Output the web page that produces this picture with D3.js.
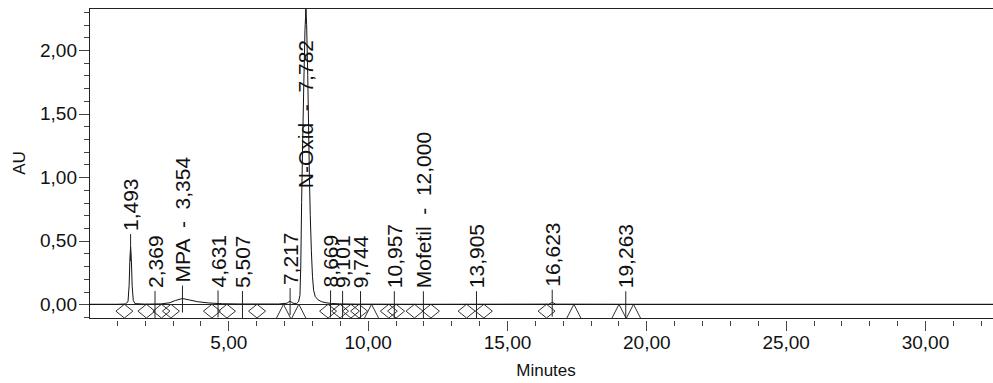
<!DOCTYPE html>
<html>
<head>
<meta charset="utf-8">
<script src="https://cdn.jsdelivr.net/npm/d3@7"></script>
<style>
  body { margin: 0; background: #fff; }
  text { font-family: Arial, "Liberation Sans", sans-serif; fill: #111; }
  .peak-label { white-space: pre; }
</style>
</head>
<body>
<div id="container"></div>
<script>
const WIDTH = 993;
const HEIGHT = 383;
const MARGIN = { TOP: 8, LEFT: 89 };

// plot runs a little past the right edge of the window
const width = 914;
const height = 310;

// detector trace, minutes / AU
const sigTime = [0, 1.0, 1.30, 1.40, 1.44, 1.47, 1.493, 1.52, 1.55, 1.59, 1.65, 2.0, 2.6, 2.9, 3.1, 3.354, 3.6, 3.9, 4.3, 4.8, 5.5,
                 6.8, 7.1, 7.217, 7.32, 7.45, 7.52, 7.57, 7.60, 7.63, 7.67, 7.71, 7.75, 7.782, 7.81, 7.85, 7.88, 7.91, 7.94, 7.98,
                 8.02, 8.06, 8.12, 8.22, 8.35, 8.5, 8.7, 9.0, 9.6, 12, 16.5, 16.6, 16.65, 16.75, 20, 32.8];
const sigAU = [0, 0, 0.002, 0.02, 0.15, 0.37, 0.45, 0.35, 0.14, 0.03, 0.005, 0.001, 0.003, 0.012, 0.03, 0.045, 0.034, 0.02, 0.01, 0.004, 0.002,
               0.002, 0.008, 0.025, 0.008, 0.006, 0.02, 0.07, 0.3, 0.8, 1.3, 1.75, 2.15, 2.32, 2.2, 1.8, 1.4, 1.0, 0.7, 0.42,
               0.22, 0.11, 0.06, 0.035, 0.02, 0.012, 0.006, 0.003, 0.001, 0, 0.001, 0.012, 0.012, 0.001, 0, 0];

// labelled peaks
const peakTimes = [1.493, 2.369, 3.354, 4.631, 5.507, 7.217, 7.782, 8.669, 9.101, 9.744, 10.957, 12.000, 13.905, 16.623, 19.263];
const peakLabels = ['1,493', '2,369', 'MPA  -  3,354', '4,631', '5,507', '7,217', 'N-Oxid  -  7,782', '8,669', '9,101',
                    '9,744', '10,957', 'Mofetil  -  12,000', '13,905', '16,623', '19,263'];

// integration start/end marks on the baseline
const diamondTimes = [1.27, 2.06, 2.60, 2.94, 4.41, 4.95, 6.03, 8.58, 9.01, 9.40, 9.69, 10.76, 11.02, 11.68, 12.27, 13.55, 14.17, 16.42];
const triangleTimes = [6.98, 7.53, 10.14, 17.40, 19.02, 19.54];

const xMajor = [5, 10, 15, 20, 25, 30];
const xMinor = d3.range(1, 33);
const yMajor = [0, 0.5, 1, 1.5, 2];
const yMinor = d3.range(-1, 24).map(d => d / 10);

const commaFmt = d => d3.format('.2f')(d).replace('.', ',');

const svg = d3.select('#container')
  .append('svg')
    .attr('width', WIDTH)
    .attr('height', HEIGHT);

const chart = svg.append('g')
    .attr('transform', `translate(${MARGIN.LEFT}, ${MARGIN.TOP})`);

const x = d3.scaleLinear().domain([0, 32.8]).range([0, width]);
const y = d3.scaleLinear().domain([-0.108, 2.33]).range([height, 0]);

svg.append('clipPath').attr('id', 'plot-clip')
  .append('rect').attr('width', width).attr('height', height);

// frame: left axis, top line, bottom line, zero baseline
const frame = chart.append('g')
    .attr('stroke', '#222')
    .attr('shape-rendering', 'crispEdges');
frame.append('line').attr('x1', 0).attr('x2', 0).attr('y1', 0).attr('y2', height);
frame.append('line').attr('x1', 0).attr('x2', width).attr('y1', 0).attr('y2', 0);
frame.append('line').attr('x1', 0).attr('x2', width).attr('y1', height).attr('y2', height);
frame.append('line').attr('x1', 0).attr('x2', width).attr('y1', y(0)).attr('y2', y(0));

// x axis, ticks hang a few px under the frame
const xMinorAxis = chart.append('g')
    .attr('transform', `translate(0, ${height + 3})`)
    .call(d3.axisBottom(x).tickValues(xMinor).tickSize(5).tickFormat(''));
const xMajorAxis = chart.append('g')
    .attr('transform', `translate(0, ${height + 3})`)
    .call(d3.axisBottom(x).tickValues(xMajor).tickSize(10).tickPadding(5).tickFormat(commaFmt));

const yMinorAxis = chart.append('g')
    .call(d3.axisLeft(y).tickValues(yMinor).tickSize(5).tickFormat(''));
const yMajorAxis = chart.append('g')
    .call(d3.axisLeft(y).tickValues(yMajor).tickSize(10).tickPadding(2).tickFormat(commaFmt));

[xMinorAxis, xMajorAxis, yMinorAxis, yMajorAxis].forEach(ax => {
    ax.select('.domain').remove();
    ax.selectAll('.tick line').attr('stroke', '#444').attr('shape-rendering', 'crispEdges');
    ax.selectAll('text')
      .attr('fill', '#111')
      .style('font-size', '19px')
      .style('font-family', 'Arial, "Liberation Sans", sans-serif');
});

chart.append('text')
    .attr('transform', `translate(${-70}, ${height / 2}) rotate(-90)`)
    .attr('text-anchor', 'middle')
    .attr('dy', '0.35em')
    .style('font-size', '17px')
    .text('AU');

chart.append('text')
    .attr('x', width / 2)
    .attr('y', height + 58)
    .attr('text-anchor', 'middle')
    .style('font-size', '17px')
    .text('Minutes');

const plot = chart.append('g').attr('clip-path', 'url(#plot-clip)');

// baseline marks
const midY = (y(0) + height) / 2;
plot.selectAll('.diamond')
    .data(diamondTimes)
    .enter()
    .append('path')
    .attr('class', 'diamond')
    .attr('d', t => {
        const cx = x(t);
        return `M${cx - 8.5},${midY} L${cx},${y(0)} L${cx + 8.5},${midY} L${cx},${height} Z`;
    })
    .attr('fill', 'none')
    .attr('stroke', '#333');

plot.selectAll('.triangle')
    .data(triangleTimes)
    .enter()
    .append('path')
    .attr('class', 'triangle')
    .attr('d', t => {
        const cx = x(t);
        return `M${cx - 7},${height} L${cx},${y(0)} L${cx + 7},${height}`;
    })
    .attr('fill', 'none')
    .attr('stroke', '#333');

// trace
const trace = sigTime.map((t, i) => [t, sigAU[i]]);
plot.append('path')
    .datum(trace)
    .attr('d', d3.line().x(d => x(d[0])).y(d => y(d[1])))
    .attr('fill', 'none')
    .attr('stroke', '#111')
    .attr('stroke-width', 1);

// peak labels with their short drop lines
const bisect = d3.bisector(d => d).left;
const signalAt = t => {
    const i = Math.max(1, Math.min(sigTime.length - 1, bisect(sigTime, t)));
    const t0 = sigTime[i - 1], t1 = sigTime[i];
    return sigAU[i - 1] + (sigAU[i] - sigAU[i - 1]) * (t - t0) / (t1 - t0);
};

const peaks = peakTimes.map((t, i) => ({ t, label: peakLabels[i], apex: y(signalAt(t)) }));

const peakGroups = chart.selectAll('.peak')
    .data(peaks)
    .enter()
    .append('g')
    .attr('class', 'peak');

peakGroups.append('line')
    .attr('x1', d => x(d.t))
    .attr('x2', d => x(d.t))
    .attr('y1', d => Math.max(0, d.apex - 13))
    .attr('y2', d => Math.min(height, d.apex + 14))
    .attr('stroke', '#222');

peakGroups.append('text')
    .attr('class', 'peak-label')
    .style('font-size', '21px')
    .attr('dy', '0.36em')
    .text(d => d.label)
    .each(function(d) {
        const len = this.getComputedTextLength();
        let start = d.apex - 16;
        if (start - len < 30) start = 32 + len;
        d3.select(this).attr('transform', `translate(${x(d.t)}, ${start}) rotate(-90)`);
    });
</script>
</body>
</html>
